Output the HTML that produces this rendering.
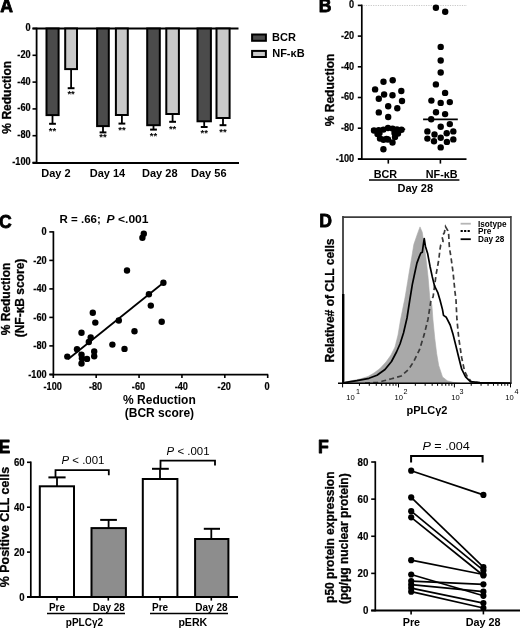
<!DOCTYPE html>
<html><head><meta charset="utf-8"><style>
html,body{margin:0;padding:0;background:#fff;}
body{width:520px;height:629px;overflow:hidden;}
svg{display:block;filter:blur(0.35px);}
text{font-family:"Liberation Sans", sans-serif;fill:#000;}
</style></head><body>
<svg width="520" height="629" viewBox="0 0 520 629">
<text x="0.2" y="12.0" font-size="17.6" font-weight="bold" stroke="#000" stroke-width="0.8" stroke-linejoin="round">A</text>
<line x1="36.6" y1="27.7" x2="36.6" y2="163.3" stroke="#000" stroke-width="1.8" />
<line x1="32.5" y1="28.5" x2="238.5" y2="28.5" stroke="#000" stroke-width="1.8" />
<line x1="32.5" y1="163.0" x2="239.0" y2="163.0" stroke="#000" stroke-width="1.8" />
<line x1="32.5" y1="28.5" x2="36.6" y2="28.5" stroke="#000" stroke-width="1.6" />
<text transform="translate(30.6,31.0) scale(0.9,1)" font-size="10.2" font-weight="bold" text-anchor="end" stroke="#000" stroke-width="0.2">0</text>
<line x1="32.5" y1="55.3" x2="36.6" y2="55.3" stroke="#000" stroke-width="1.6" />
<text transform="translate(30.6,57.8) scale(0.9,1)" font-size="10.2" font-weight="bold" text-anchor="end" stroke="#000" stroke-width="0.2">-20</text>
<line x1="32.5" y1="82.1" x2="36.6" y2="82.1" stroke="#000" stroke-width="1.6" />
<text transform="translate(30.6,84.6) scale(0.9,1)" font-size="10.2" font-weight="bold" text-anchor="end" stroke="#000" stroke-width="0.2">-40</text>
<line x1="32.5" y1="108.9" x2="36.6" y2="108.9" stroke="#000" stroke-width="1.6" />
<text transform="translate(30.6,111.4) scale(0.9,1)" font-size="10.2" font-weight="bold" text-anchor="end" stroke="#000" stroke-width="0.2">-60</text>
<line x1="32.5" y1="135.7" x2="36.6" y2="135.7" stroke="#000" stroke-width="1.6" />
<text transform="translate(30.6,138.2) scale(0.9,1)" font-size="10.2" font-weight="bold" text-anchor="end" stroke="#000" stroke-width="0.2">-80</text>
<line x1="32.5" y1="162.5" x2="36.6" y2="162.5" stroke="#000" stroke-width="1.6" />
<text transform="translate(30.6,165.0) scale(0.9,1)" font-size="10.2" font-weight="bold" text-anchor="end" stroke="#000" stroke-width="0.2">-100</text>
<rect x="46.50" y="28.50" width="12.10" height="86.60" fill="#4b4b4b" stroke="#000" stroke-width="2"/>
<line x1="52.5" y1="115.1" x2="52.5" y2="123.8" stroke="#000" stroke-width="1.8" />
<line x1="49.1" y1="123.8" x2="55.9" y2="123.8" stroke="#000" stroke-width="2" />
<text x="52.5" y="134.0" font-size="9.5" font-weight="bold" text-anchor="middle"  >**</text>
<rect x="65.20" y="28.50" width="11.80" height="40.60" fill="#c9c9c9" stroke="#000" stroke-width="2"/>
<line x1="71.1" y1="69.1" x2="71.1" y2="88.2" stroke="#000" stroke-width="1.8" />
<line x1="67.69999999999999" y1="88.2" x2="74.5" y2="88.2" stroke="#000" stroke-width="2" />
<text x="71.1" y="97.0" font-size="9.5" font-weight="bold" text-anchor="middle"  >**</text>
<rect x="97.10" y="28.50" width="11.70" height="97.60" fill="#4b4b4b" stroke="#000" stroke-width="2"/>
<line x1="103.0" y1="126.1" x2="103.0" y2="132.4" stroke="#000" stroke-width="1.8" />
<line x1="99.6" y1="132.4" x2="106.4" y2="132.4" stroke="#000" stroke-width="2" />
<text x="103.0" y="140.0" font-size="9.5" font-weight="bold" text-anchor="middle"  >**</text>
<rect x="115.90" y="28.50" width="11.90" height="86.50" fill="#c9c9c9" stroke="#000" stroke-width="2"/>
<line x1="121.9" y1="115.0" x2="121.9" y2="123.6" stroke="#000" stroke-width="1.8" />
<line x1="118.5" y1="123.6" x2="125.30000000000001" y2="123.6" stroke="#000" stroke-width="2" />
<text x="121.9" y="133.3" font-size="9.5" font-weight="bold" text-anchor="middle"  >**</text>
<rect x="147.20" y="28.50" width="12.60" height="96.70" fill="#4b4b4b" stroke="#000" stroke-width="2"/>
<line x1="153.5" y1="125.2" x2="153.5" y2="129.6" stroke="#000" stroke-width="1.8" />
<line x1="150.1" y1="129.6" x2="156.9" y2="129.6" stroke="#000" stroke-width="2" />
<text x="153.5" y="139.4" font-size="9.5" font-weight="bold" text-anchor="middle"  >**</text>
<rect x="166.30" y="28.50" width="12.60" height="85.50" fill="#c9c9c9" stroke="#000" stroke-width="2"/>
<line x1="172.6" y1="114.0" x2="172.6" y2="121.8" stroke="#000" stroke-width="1.8" />
<line x1="169.2" y1="121.8" x2="176.0" y2="121.8" stroke="#000" stroke-width="2" />
<text x="172.6" y="131.5" font-size="9.5" font-weight="bold" text-anchor="middle"  >**</text>
<rect x="197.50" y="28.50" width="13.40" height="92.80" fill="#4b4b4b" stroke="#000" stroke-width="2"/>
<line x1="204.2" y1="121.3" x2="204.2" y2="127.0" stroke="#000" stroke-width="1.8" />
<line x1="200.79999999999998" y1="127.0" x2="207.6" y2="127.0" stroke="#000" stroke-width="2" />
<text x="204.2" y="136.3" font-size="9.5" font-weight="bold" text-anchor="middle"  >**</text>
<rect x="216.50" y="28.50" width="13.10" height="89.50" fill="#c9c9c9" stroke="#000" stroke-width="2"/>
<line x1="223.0" y1="118.0" x2="223.0" y2="125.2" stroke="#000" stroke-width="1.8" />
<line x1="219.6" y1="125.2" x2="226.4" y2="125.2" stroke="#000" stroke-width="2" />
<text x="223.0" y="134.5" font-size="9.5" font-weight="bold" text-anchor="middle"  >**</text>
<rect x="252.10" y="34.50" width="13.80" height="6.30" fill="#4b4b4b" stroke="#000" stroke-width="2"/>
<rect x="252.10" y="50.90" width="13.80" height="6.10" fill="#c9c9c9" stroke="#000" stroke-width="2"/>
<text x="272.0" y="41.3" font-size="11" font-weight="bold" text-anchor="start"  >BCR</text>
<text x="272.2" y="57.3" font-size="11" font-weight="bold" text-anchor="start"  >NF-&#954;B</text>
<text x="56.0" y="177.0" font-size="11" font-weight="bold" text-anchor="middle"  >Day 2</text>
<text x="107.5" y="177.0" font-size="11" font-weight="bold" text-anchor="middle"  >Day 14</text>
<text x="159.8" y="177.0" font-size="11" font-weight="bold" text-anchor="middle"  >Day 28</text>
<text x="208.8" y="177.0" font-size="11" font-weight="bold" text-anchor="middle"  >Day 56</text>
<text transform="translate(10.6,97.3) rotate(-90)" x="0" y="0" font-size="12" font-weight="bold" text-anchor="middle" stroke="#000" stroke-width="0.3">% Reduction</text>
<text x="318.8" y="12.3" font-size="17.6" font-weight="bold" stroke="#000" stroke-width="0.8" stroke-linejoin="round">B</text>
<line x1="363.5" y1="5.5" x2="467" y2="5.5" stroke="#c8c8c8" stroke-width="1.2" stroke-dasharray="1.2,1.2"/>
<line x1="361.8" y1="4.6" x2="361.8" y2="159.9" stroke="#000" stroke-width="1.7" />
<line x1="358" y1="159.2" x2="466.5" y2="159.2" stroke="#000" stroke-width="1.7" />
<line x1="357.8" y1="5.4" x2="361.8" y2="5.4" stroke="#000" stroke-width="1.6" />
<text transform="translate(354.2,8.100000000000001) scale(0.9,1)" font-size="10.2" font-weight="bold" text-anchor="end" stroke="#000" stroke-width="0.2">0</text>
<line x1="357.8" y1="36.1" x2="361.8" y2="36.1" stroke="#000" stroke-width="1.6" />
<text transform="translate(354.2,38.800000000000004) scale(0.9,1)" font-size="10.2" font-weight="bold" text-anchor="end" stroke="#000" stroke-width="0.2">-20</text>
<line x1="357.8" y1="66.8" x2="361.8" y2="66.8" stroke="#000" stroke-width="1.6" />
<text transform="translate(354.2,69.5) scale(0.9,1)" font-size="10.2" font-weight="bold" text-anchor="end" stroke="#000" stroke-width="0.2">-40</text>
<line x1="357.8" y1="97.5" x2="361.8" y2="97.5" stroke="#000" stroke-width="1.6" />
<text transform="translate(354.2,100.2) scale(0.9,1)" font-size="10.2" font-weight="bold" text-anchor="end" stroke="#000" stroke-width="0.2">-60</text>
<line x1="357.8" y1="128.2" x2="361.8" y2="128.2" stroke="#000" stroke-width="1.6" />
<text transform="translate(354.2,130.89999999999998) scale(0.9,1)" font-size="10.2" font-weight="bold" text-anchor="end" stroke="#000" stroke-width="0.2">-80</text>
<line x1="357.8" y1="158.9" x2="361.8" y2="158.9" stroke="#000" stroke-width="1.6" />
<text transform="translate(354.2,161.6) scale(0.9,1)" font-size="10.2" font-weight="bold" text-anchor="end" stroke="#000" stroke-width="0.2">-100</text>
<line x1="388.3" y1="159.2" x2="388.3" y2="163.6" stroke="#000" stroke-width="1.6" />
<line x1="440.4" y1="159.2" x2="440.4" y2="163.6" stroke="#000" stroke-width="1.6" />
<text x="385.4" y="177.9" font-size="10.8" font-weight="bold" text-anchor="middle"  >BCR</text>
<text x="441.7" y="177.9" font-size="10.8" font-weight="bold" text-anchor="middle"  >NF-&#954;B</text>
<line x1="369" y1="179.9" x2="459.4" y2="179.9" stroke="#000" stroke-width="1.5" />
<text x="415.3" y="191.6" font-size="11" font-weight="bold" text-anchor="middle"  >Day 28</text>
<text transform="translate(334.1,89.9) rotate(-90)" x="0" y="0" font-size="12" font-weight="bold" text-anchor="middle" stroke="#000" stroke-width="0.3">% Reduction</text>
<circle cx="383.5" cy="81.8" r="3.2" fill="#000"/>
<circle cx="392.7" cy="80.3" r="3.2" fill="#000"/>
<circle cx="375.1" cy="89.4" r="3.2" fill="#000"/>
<circle cx="401.3" cy="91" r="3.2" fill="#000"/>
<circle cx="384.1" cy="94.5" r="3.2" fill="#000"/>
<circle cx="392.5" cy="95.2" r="3.2" fill="#000"/>
<circle cx="378.8" cy="98.8" r="3.2" fill="#000"/>
<circle cx="402" cy="101" r="3.2" fill="#000"/>
<circle cx="388.2" cy="106.3" r="3.2" fill="#000"/>
<circle cx="397.3" cy="108.2" r="3.2" fill="#000"/>
<circle cx="378.8" cy="112.4" r="3.2" fill="#000"/>
<circle cx="388.2" cy="117" r="3.2" fill="#000"/>
<circle cx="374.0" cy="130.5" r="3.2" fill="#000"/>
<circle cx="383.4" cy="129.6" r="3.2" fill="#000"/>
<circle cx="392.6" cy="128.6" r="3.2" fill="#000"/>
<circle cx="401.5" cy="129.8" r="3.2" fill="#000"/>
<circle cx="377.5" cy="134.0" r="3.2" fill="#000"/>
<circle cx="398.0" cy="133.5" r="3.2" fill="#000"/>
<circle cx="380.0" cy="138.5" r="3.2" fill="#000"/>
<circle cx="395.0" cy="137.0" r="3.2" fill="#000"/>
<circle cx="383.5" cy="139.8" r="3.2" fill="#000"/>
<circle cx="388.0" cy="139.5" r="3.2" fill="#000"/>
<circle cx="392.5" cy="142.5" r="3.2" fill="#000"/>
<circle cx="383.4" cy="149.2" r="3.2" fill="#000"/>
<circle cx="379.5" cy="133.0" r="3.2" fill="#000"/>
<circle cx="394.5" cy="133.0" r="3.2" fill="#000"/>
<circle cx="386.5" cy="139.0" r="3.2" fill="#000"/>
<circle cx="378.7" cy="130.3" r="3.2" fill="#000"/>
<circle cx="397.0" cy="129.5" r="3.2" fill="#000"/>
<circle cx="388.0" cy="128.0" r="3.2" fill="#000"/>
<circle cx="435.9" cy="7.7" r="3.2" fill="#000"/>
<circle cx="445.2" cy="11.7" r="3.2" fill="#000"/>
<circle cx="440.7" cy="46.9" r="3.2" fill="#000"/>
<circle cx="440.7" cy="60.5" r="3.2" fill="#000"/>
<circle cx="440.7" cy="72.5" r="3.2" fill="#000"/>
<circle cx="435.9" cy="84.4" r="3.2" fill="#000"/>
<circle cx="445.1" cy="92.9" r="3.2" fill="#000"/>
<circle cx="431.4" cy="100.6" r="3.2" fill="#000"/>
<circle cx="440.7" cy="102.9" r="3.2" fill="#000"/>
<circle cx="449.8" cy="102.1" r="3.2" fill="#000"/>
<circle cx="436" cy="112.2" r="3.2" fill="#000"/>
<circle cx="445.1" cy="114.1" r="3.2" fill="#000"/>
<circle cx="431.2" cy="119.3" r="3.2" fill="#000"/>
<circle cx="449.8" cy="124.1" r="3.2" fill="#000"/>
<circle cx="440.7" cy="126.7" r="3.2" fill="#000"/>
<circle cx="427.4" cy="131.4" r="3.2" fill="#000"/>
<circle cx="434.5" cy="134.5" r="3.2" fill="#000"/>
<circle cx="446.7" cy="133.2" r="3.2" fill="#000"/>
<circle cx="453.3" cy="131.4" r="3.2" fill="#000"/>
<circle cx="427.4" cy="138.6" r="3.2" fill="#000"/>
<circle cx="434" cy="141.2" r="3.2" fill="#000"/>
<circle cx="440.7" cy="137.8" r="3.2" fill="#000"/>
<circle cx="446.9" cy="141.9" r="3.2" fill="#000"/>
<circle cx="453.3" cy="139.4" r="3.2" fill="#000"/>
<circle cx="440.7" cy="147.4" r="3.2" fill="#000"/>
<line x1="371" y1="129.3" x2="405.2" y2="129.3" stroke="#000" stroke-width="1.6" />
<line x1="423.1" y1="119.3" x2="457.8" y2="119.3" stroke="#000" stroke-width="1.7" />
<text x="-1.1" y="227.5" font-size="17.6" font-weight="bold" stroke="#000" stroke-width="0.8" stroke-linejoin="round">C</text>
<text x="59.6" y="223.3" font-size="11.5" font-weight="bold">R = .66;</text>
<text transform="translate(106.6,223.3) scale(1.05,1)" font-size="11.5" font-weight="bold"><tspan font-style="italic">P</tspan> &lt;.001</text>
<line x1="53.4" y1="231.2" x2="53.4" y2="375.3" stroke="#000" stroke-width="1.7" />
<line x1="49.5" y1="374.6" x2="268.2" y2="374.6" stroke="#000" stroke-width="1.7" />
<line x1="49.3" y1="231.9" x2="53.4" y2="231.9" stroke="#000" stroke-width="1.6" />
<text transform="translate(46.6,235.3) scale(0.9,1)" font-size="10.2" font-weight="bold" text-anchor="end" stroke="#000" stroke-width="0.2">0</text>
<line x1="49.3" y1="260.4" x2="53.4" y2="260.4" stroke="#000" stroke-width="1.6" />
<text transform="translate(46.6,263.79999999999995) scale(0.9,1)" font-size="10.2" font-weight="bold" text-anchor="end" stroke="#000" stroke-width="0.2">-20</text>
<line x1="49.3" y1="288.9" x2="53.4" y2="288.9" stroke="#000" stroke-width="1.6" />
<text transform="translate(46.6,292.29999999999995) scale(0.9,1)" font-size="10.2" font-weight="bold" text-anchor="end" stroke="#000" stroke-width="0.2">-40</text>
<line x1="49.3" y1="317.4" x2="53.4" y2="317.4" stroke="#000" stroke-width="1.6" />
<text transform="translate(46.6,320.79999999999995) scale(0.9,1)" font-size="10.2" font-weight="bold" text-anchor="end" stroke="#000" stroke-width="0.2">-60</text>
<line x1="49.3" y1="345.9" x2="53.4" y2="345.9" stroke="#000" stroke-width="1.6" />
<text transform="translate(46.6,349.29999999999995) scale(0.9,1)" font-size="10.2" font-weight="bold" text-anchor="end" stroke="#000" stroke-width="0.2">-80</text>
<line x1="49.3" y1="374.4" x2="53.4" y2="374.4" stroke="#000" stroke-width="1.6" />
<text transform="translate(46.6,377.79999999999995) scale(0.9,1)" font-size="10.2" font-weight="bold" text-anchor="end" stroke="#000" stroke-width="0.2">-100</text>
<line x1="53.3" y1="374.6" x2="53.3" y2="378.0" stroke="#000" stroke-width="1.6" />
<text transform="translate(52.699999999999996,389.8) scale(0.9,1)" font-size="10.2" font-weight="bold" text-anchor="middle" stroke="#000" stroke-width="0.2">-100</text>
<line x1="96.18" y1="374.6" x2="96.18" y2="378.0" stroke="#000" stroke-width="1.6" />
<text transform="translate(95.58000000000001,389.8) scale(0.9,1)" font-size="10.2" font-weight="bold" text-anchor="middle" stroke="#000" stroke-width="0.2">-80</text>
<line x1="139.06" y1="374.6" x2="139.06" y2="378.0" stroke="#000" stroke-width="1.6" />
<text transform="translate(138.46,389.8) scale(0.9,1)" font-size="10.2" font-weight="bold" text-anchor="middle" stroke="#000" stroke-width="0.2">-60</text>
<line x1="181.94" y1="374.6" x2="181.94" y2="378.0" stroke="#000" stroke-width="1.6" />
<text transform="translate(181.34,389.8) scale(0.9,1)" font-size="10.2" font-weight="bold" text-anchor="middle" stroke="#000" stroke-width="0.2">-40</text>
<line x1="224.82" y1="374.6" x2="224.82" y2="378.0" stroke="#000" stroke-width="1.6" />
<text transform="translate(224.22,389.8) scale(0.9,1)" font-size="10.2" font-weight="bold" text-anchor="middle" stroke="#000" stroke-width="0.2">-20</text>
<line x1="267.7" y1="374.6" x2="267.7" y2="378.0" stroke="#000" stroke-width="1.6" />
<text transform="translate(267.09999999999997,389.8) scale(0.9,1)" font-size="10.2" font-weight="bold" text-anchor="middle" stroke="#000" stroke-width="0.2">0</text>
<text x="159.4" y="403.8" font-size="12" font-weight="bold" text-anchor="middle"  >% Reduction</text>
<text x="159.4" y="417.2" font-size="12" font-weight="bold" text-anchor="middle"  >(BCR score)</text>
<text transform="translate(10.2,299.0) rotate(-90)" x="0" y="0" font-size="12" font-weight="bold" text-anchor="middle" stroke="#000" stroke-width="0.3">% Reduction</text>
<text transform="translate(23.6,298.0) rotate(-90)" x="0" y="0" font-size="12" font-weight="bold" text-anchor="middle" stroke="#000" stroke-width="0.3">(NF-&#954;B score)</text>
<circle cx="92.8" cy="312.8" r="3.2" fill="#000"/>
<circle cx="95.3" cy="322.6" r="3.2" fill="#000"/>
<circle cx="118.8" cy="320.5" r="3.2" fill="#000"/>
<circle cx="81.5" cy="332.8" r="3.2" fill="#000"/>
<circle cx="90.7" cy="337.4" r="3.2" fill="#000"/>
<circle cx="88.8" cy="342" r="3.2" fill="#000"/>
<circle cx="112.4" cy="344.6" r="3.2" fill="#000"/>
<circle cx="124.5" cy="348.9" r="3.2" fill="#000"/>
<circle cx="77" cy="349.2" r="3.2" fill="#000"/>
<circle cx="94.2" cy="351.5" r="3.2" fill="#000"/>
<circle cx="94.2" cy="356.2" r="3.2" fill="#000"/>
<circle cx="81.5" cy="354.6" r="3.2" fill="#000"/>
<circle cx="81.9" cy="358.2" r="3.2" fill="#000"/>
<circle cx="87" cy="358.9" r="3.2" fill="#000"/>
<circle cx="67.3" cy="356.6" r="3.2" fill="#000"/>
<circle cx="81.5" cy="363.5" r="3.2" fill="#000"/>
<circle cx="143.8" cy="233.8" r="3.2" fill="#000"/>
<circle cx="142.4" cy="237.8" r="3.2" fill="#000"/>
<circle cx="127" cy="270.5" r="3.2" fill="#000"/>
<circle cx="163.4" cy="282.8" r="3.2" fill="#000"/>
<circle cx="148.9" cy="294.2" r="3.2" fill="#000"/>
<circle cx="150.8" cy="305.6" r="3.2" fill="#000"/>
<circle cx="161.7" cy="321.7" r="3.2" fill="#000"/>
<circle cx="134.5" cy="331.3" r="3.2" fill="#000"/>
<line x1="68" y1="359.3" x2="163.4" y2="282.8" stroke="#000" stroke-width="1.8" />
<text x="319.2" y="226.5" font-size="17.6" font-weight="bold" stroke="#000" stroke-width="0.8" stroke-linejoin="round">D</text>
<polygon points="343.5,383.2 344.0,382.3 351.0,380.8 360.0,379.0 368.0,376.5 374.0,373.0 380.0,368.5 386.0,362.0 391.0,355.0 395.0,347.0 398.0,335.0 400.5,320.0 403.5,305.0 404.6,300.0 406.2,290.8 407.7,281.5 409.2,272.3 410.8,263.1 412.3,253.8 413.8,244.6 416.9,235.4 420.0,226.9 422.3,232.3 423.8,243.1 425.4,253.8 426.9,266.2 428.2,278.5 429.2,290.8 430.0,300.0 431.9,305.0 432.9,319.2 434.8,338.5 436.7,353.8 438.7,365.4 442.5,376.9 447.3,380.8 453.0,382.3 460.0,383.2" fill="#a9a9a9" stroke="#a9a9a9" stroke-width="0.6"/>
<polyline points="365.0,383.0 378.0,382.3 383.8,380.8 391.5,378.8 401.2,376.0 408.8,369.2 413.7,361.5 419.4,350.0 424.2,334.6 428.0,319.2 431.0,300.0 433.1,296.9 436.2,273.8 438.3,262.5 439.1,257.0 439.9,249.8 440.7,245.0 443.1,241.1 441.9,236.3 444.3,232.8 445.5,226.6 447.9,230.7 448.7,234.7 449.1,242.7 449.5,248.2 450.7,255.4 451.5,261.0 453.1,272.7 455.0,291.9 456.0,300.0 456.9,319.2 458.8,338.5 461.7,357.7 464.6,371.2 467.5,376.9 471.3,381.7 480.0,383.0" fill="none" stroke="#3a3a3a" stroke-width="1.7" stroke-dasharray="5,3.2"/>
<polyline points="343.5,383.0 346.0,382.3 357.0,380.6 369.0,378.3 377.0,375.3 385.0,369.5 391.5,361.5 396.5,352.0 400.0,344.0 403.5,333.0 407.0,318.0 409.8,300.0 412.3,284.6 414.6,273.8 416.9,263.1 419.2,256.9 420.8,253.0 422.3,252.3 423.0,247.0 424.2,238.5 425.4,246.2 427.7,253.8 430.0,266.2 432.3,276.9 434.6,286.2 437.7,292.3 440.0,300.0 442.5,309.6 443.5,315.4 446.3,317.3 450.2,325.0 453.1,334.6 456.0,346.2 458.8,357.7 461.7,369.2 465.6,376.9 470.4,381.7 480.0,382.7 510.0,383.0" fill="none" stroke="#000" stroke-width="1.7" stroke-linejoin="round"/>
<line x1="342.6" y1="217.1" x2="511.2" y2="217.1" stroke="#3c3c3c" stroke-width="1.8" />
<line x1="510.9" y1="216" x2="510.9" y2="383.5" stroke="#3c3c3c" stroke-width="1.6" />
<line x1="343.0" y1="216" x2="343.0" y2="383.5" stroke="#3c3c3c" stroke-width="1.8" />
<line x1="343.2" y1="294" x2="343.2" y2="383.5" stroke="#000" stroke-width="2.4" />
<line x1="338" y1="383.2" x2="511.5" y2="383.2" stroke="#000" stroke-width="1.6" />
<line x1="342.6" y1="383.2" x2="342.6" y2="387.4" stroke="#000" stroke-width="1.0" />
<line x1="359.43" y1="383.2" x2="359.43" y2="385.8" stroke="#000" stroke-width="1.0" />
<line x1="369.27" y1="383.2" x2="369.27" y2="385.8" stroke="#000" stroke-width="1.0" />
<line x1="376.26" y1="383.2" x2="376.26" y2="385.8" stroke="#000" stroke-width="1.0" />
<line x1="381.67" y1="383.2" x2="381.67" y2="385.8" stroke="#000" stroke-width="1.0" />
<line x1="386.1" y1="383.2" x2="386.1" y2="385.8" stroke="#000" stroke-width="1.0" />
<line x1="389.84" y1="383.2" x2="389.84" y2="385.8" stroke="#000" stroke-width="1.0" />
<line x1="393.08" y1="383.2" x2="393.08" y2="385.8" stroke="#000" stroke-width="1.0" />
<line x1="395.94" y1="383.2" x2="395.94" y2="385.8" stroke="#000" stroke-width="1.0" />
<line x1="398.5" y1="383.2" x2="398.5" y2="387.4" stroke="#000" stroke-width="1.0" />
<line x1="415.33" y1="383.2" x2="415.33" y2="385.8" stroke="#000" stroke-width="1.0" />
<line x1="425.17" y1="383.2" x2="425.17" y2="385.8" stroke="#000" stroke-width="1.0" />
<line x1="432.16" y1="383.2" x2="432.16" y2="385.8" stroke="#000" stroke-width="1.0" />
<line x1="437.57" y1="383.2" x2="437.57" y2="385.8" stroke="#000" stroke-width="1.0" />
<line x1="442.0" y1="383.2" x2="442.0" y2="385.8" stroke="#000" stroke-width="1.0" />
<line x1="445.74" y1="383.2" x2="445.74" y2="385.8" stroke="#000" stroke-width="1.0" />
<line x1="448.98" y1="383.2" x2="448.98" y2="385.8" stroke="#000" stroke-width="1.0" />
<line x1="451.84" y1="383.2" x2="451.84" y2="385.8" stroke="#000" stroke-width="1.0" />
<line x1="454.4" y1="383.2" x2="454.4" y2="387.4" stroke="#000" stroke-width="1.0" />
<line x1="471.23" y1="383.2" x2="471.23" y2="385.8" stroke="#000" stroke-width="1.0" />
<line x1="481.07" y1="383.2" x2="481.07" y2="385.8" stroke="#000" stroke-width="1.0" />
<line x1="488.06" y1="383.2" x2="488.06" y2="385.8" stroke="#000" stroke-width="1.0" />
<line x1="493.47" y1="383.2" x2="493.47" y2="385.8" stroke="#000" stroke-width="1.0" />
<line x1="497.9" y1="383.2" x2="497.9" y2="385.8" stroke="#000" stroke-width="1.0" />
<line x1="501.64" y1="383.2" x2="501.64" y2="385.8" stroke="#000" stroke-width="1.0" />
<line x1="504.88" y1="383.2" x2="504.88" y2="385.8" stroke="#000" stroke-width="1.0" />
<line x1="507.74" y1="383.2" x2="507.74" y2="385.8" stroke="#000" stroke-width="1.0" />
<line x1="510.5" y1="383.2" x2="510.5" y2="387.4" stroke="#000" stroke-width="1.0" />
<text x="346.3" y="400.0" font-size="7.6" font-weight="normal" text-anchor="start"  >10</text>
<text x="356.0" y="394.2" font-size="7.2" font-weight="normal" text-anchor="start"  >1</text>
<text x="394.6" y="400.0" font-size="7.6" font-weight="normal" text-anchor="start"  >10</text>
<text x="403.4" y="394.2" font-size="7.2" font-weight="normal" text-anchor="start"  >2</text>
<text x="451.3" y="400.0" font-size="7.6" font-weight="normal" text-anchor="start"  >10</text>
<text x="459.6" y="394.2" font-size="7.2" font-weight="normal" text-anchor="start"  >3</text>
<text x="505.3" y="400.0" font-size="7.6" font-weight="normal" text-anchor="start"  >10</text>
<text x="514.4" y="394.2" font-size="7.2" font-weight="normal" text-anchor="start"  >4</text>
<line x1="460.6" y1="223.7" x2="470.8" y2="223.7" stroke="#b5b5b5" stroke-width="1.8" />
<line x1="460.6" y1="231.0" x2="470.8" y2="231.0" stroke="#000" stroke-width="1.8" stroke-dasharray="2.2,1.3"/>
<line x1="460.6" y1="239.2" x2="470.8" y2="239.2" stroke="#000" stroke-width="1.8" />
<text x="478.0" y="226.6" font-size="8.2" font-weight="bold" text-anchor="start"  >Isotype</text>
<text x="478.0" y="234.2" font-size="8.2" font-weight="bold" text-anchor="start"  >Pre</text>
<text x="478.0" y="241.9" font-size="8.2" font-weight="bold" text-anchor="start"  >Day 28</text>
<text transform="translate(334.2,300.5) rotate(-90)" x="0" y="0" font-size="12" font-weight="bold" text-anchor="middle" stroke="#000" stroke-width="0.3">Relative# of CLL cells</text>
<text x="406.5" y="414.3" font-size="11" font-weight="bold" text-anchor="start"  >pPLC&#947;2</text>
<text x="-1.6" y="453.4" font-size="17.6" font-weight="bold" stroke="#000" stroke-width="0.8" stroke-linejoin="round">E</text>
<line x1="30.8" y1="461.5" x2="30.8" y2="597.8" stroke="#000" stroke-width="1.7" />
<line x1="27" y1="597" x2="238" y2="597" stroke="#000" stroke-width="1.8" />
<line x1="27.0" y1="597.0" x2="30.8" y2="597.0" stroke="#000" stroke-width="1.6" />
<text transform="translate(24.6,600.6) scale(0.87,1)" font-size="11.0" font-weight="bold" text-anchor="end" stroke="#000" stroke-width="0.2">0</text>
<line x1="27.0" y1="552.1" x2="30.8" y2="552.1" stroke="#000" stroke-width="1.6" />
<text transform="translate(24.6,555.7) scale(0.87,1)" font-size="11.0" font-weight="bold" text-anchor="end" stroke="#000" stroke-width="0.2">20</text>
<line x1="27.0" y1="507.2" x2="30.8" y2="507.2" stroke="#000" stroke-width="1.6" />
<text transform="translate(24.6,510.8) scale(0.87,1)" font-size="11.0" font-weight="bold" text-anchor="end" stroke="#000" stroke-width="0.2">40</text>
<line x1="27.0" y1="462.29999999999995" x2="30.8" y2="462.29999999999995" stroke="#000" stroke-width="1.6" />
<text transform="translate(24.6,465.9) scale(0.87,1)" font-size="11.0" font-weight="bold" text-anchor="end" stroke="#000" stroke-width="0.2">60</text>
<rect x="39.80" y="486.30" width="34.20" height="110.70" fill="#fff" stroke="#000" stroke-width="2"/>
<line x1="57.0" y1="486.3" x2="57.0" y2="477.4" stroke="#000" stroke-width="1.8" />
<line x1="48.4" y1="477.4" x2="65.6" y2="477.4" stroke="#000" stroke-width="2" />
<rect x="91.50" y="528.10" width="34.40" height="68.90" fill="#8d8d8d" stroke="#000" stroke-width="2"/>
<line x1="108.6" y1="528.1" x2="108.6" y2="519.9" stroke="#000" stroke-width="1.8" />
<line x1="100.2" y1="519.9" x2="116.9" y2="519.9" stroke="#000" stroke-width="2" />
<rect x="142.80" y="479.00" width="34.60" height="118.00" fill="#fff" stroke="#000" stroke-width="2"/>
<line x1="160.0" y1="479.0" x2="160.0" y2="468.8" stroke="#000" stroke-width="1.8" />
<line x1="152.0" y1="468.8" x2="168.8" y2="468.8" stroke="#000" stroke-width="2" />
<rect x="195.10" y="539.00" width="33.30" height="58.00" fill="#8d8d8d" stroke="#000" stroke-width="2"/>
<line x1="211.3" y1="539.0" x2="211.3" y2="528.8" stroke="#000" stroke-width="1.8" />
<line x1="203.8" y1="528.8" x2="220.0" y2="528.8" stroke="#000" stroke-width="2" />
<line x1="57" y1="597" x2="57" y2="600.6" stroke="#000" stroke-width="1.6" />
<line x1="108.3" y1="597" x2="108.3" y2="600.6" stroke="#000" stroke-width="1.6" />
<line x1="160" y1="597" x2="160" y2="600.6" stroke="#000" stroke-width="1.6" />
<line x1="211.3" y1="597" x2="211.3" y2="600.6" stroke="#000" stroke-width="1.6" />
<polyline points="55.5,477.4 55.5,470.2 108.8,470.2 108.8,475.2" fill="none" stroke="#000" stroke-width="1.8"/>
<polyline points="160.5,468.8 160.5,460.7 215,460.7 215,465.6" fill="none" stroke="#000" stroke-width="1.8"/>
<text transform="translate(61.5,464.3) scale(1.05,1)" font-size="10.9" font-weight="normal"><tspan font-style="italic">P</tspan> &lt; .001</text>
<text transform="translate(166.6,455.0) scale(1.05,1)" font-size="10.9" font-weight="normal"><tspan font-style="italic">P</tspan> &lt; .001</text>
<text x="57" y="611.4" font-size="10" font-weight="bold" text-anchor="middle"  >Pre</text>
<text x="108.8" y="611.4" font-size="10" font-weight="bold" text-anchor="middle"  >Day 28</text>
<text x="160.1" y="611.4" font-size="10" font-weight="bold" text-anchor="middle"  >Pre</text>
<text x="211.4" y="611.4" font-size="10" font-weight="bold" text-anchor="middle"  >Day 28</text>
<line x1="47" y1="613.4" x2="125" y2="613.4" stroke="#000" stroke-width="1.5" />
<line x1="150" y1="613.4" x2="228" y2="613.4" stroke="#000" stroke-width="1.5" />
<text x="84.4" y="626.2" font-size="10.0" font-weight="bold" text-anchor="middle"  >pPLC&#947;2</text>
<text x="192.8" y="626.2" font-size="10.6" font-weight="bold" text-anchor="middle"  >pERK</text>
<text transform="translate(9.3,527.0) rotate(-90)" x="0" y="0" font-size="12.4" font-weight="bold" text-anchor="middle" stroke="#000" stroke-width="0.3">% Positive CLL cells</text>
<text x="317.9" y="453.2" font-size="17.6" font-weight="bold" stroke="#000" stroke-width="0.8" stroke-linejoin="round">F</text>
<line x1="375.3" y1="461.3" x2="375.3" y2="611.3" stroke="#000" stroke-width="1.7" />
<line x1="371.2" y1="610.5" x2="520" y2="610.5" stroke="#000" stroke-width="1.8" />
<line x1="371.2" y1="610.5" x2="375.3" y2="610.5" stroke="#000" stroke-width="1.6" />
<text transform="translate(368.4,614.3) scale(0.87,1)" font-size="11.2" font-weight="bold" text-anchor="end" stroke="#000" stroke-width="0.2">0</text>
<line x1="371.2" y1="573.38" x2="375.3" y2="573.38" stroke="#000" stroke-width="1.6" />
<text transform="translate(368.4,577.18) scale(0.87,1)" font-size="11.2" font-weight="bold" text-anchor="end" stroke="#000" stroke-width="0.2">20</text>
<line x1="371.2" y1="536.26" x2="375.3" y2="536.26" stroke="#000" stroke-width="1.6" />
<text transform="translate(368.4,540.06) scale(0.87,1)" font-size="11.2" font-weight="bold" text-anchor="end" stroke="#000" stroke-width="0.2">40</text>
<line x1="371.2" y1="499.14" x2="375.3" y2="499.14" stroke="#000" stroke-width="1.6" />
<text transform="translate(368.4,502.94) scale(0.87,1)" font-size="11.2" font-weight="bold" text-anchor="end" stroke="#000" stroke-width="0.2">60</text>
<line x1="371.2" y1="462.02" x2="375.3" y2="462.02" stroke="#000" stroke-width="1.6" />
<text transform="translate(368.4,465.82) scale(0.87,1)" font-size="11.2" font-weight="bold" text-anchor="end" stroke="#000" stroke-width="0.2">80</text>
<line x1="411.1" y1="610.5" x2="411.1" y2="614.4" stroke="#000" stroke-width="1.6" />
<line x1="483.4" y1="610.5" x2="483.4" y2="614.4" stroke="#000" stroke-width="1.6" />
<text x="411.4" y="626.2" font-size="10.8" font-weight="bold" text-anchor="middle"  >Pre</text>
<text x="483.2" y="626.2" font-size="10.8" font-weight="bold" text-anchor="middle"  >Day 28</text>
<polyline points="411.1,462.6 411.1,456.0 482.6,456.0 482.6,462.6" fill="none" stroke="#000" stroke-width="2"/>
<text transform="translate(422.4,450.3) scale(1.17,1)" font-size="10.8" font-weight="normal"><tspan font-style="italic">P</tspan> = .004</text>
<text transform="translate(334.0,537.2) rotate(-90)" x="0" y="0" font-size="12" font-weight="bold" text-anchor="middle" stroke="#000" stroke-width="0.3">p50 protein expression</text>
<text transform="translate(348.0,538.7) rotate(-90)" x="0" y="0" font-size="12" font-weight="bold" text-anchor="middle" stroke="#000" stroke-width="0.3">(pg/&#956;g nuclear protein)</text>
<line x1="411.2" y1="470.7" x2="483.4" y2="494.9" stroke="#000" stroke-width="1.7" />
<line x1="411.2" y1="497.4" x2="483.4" y2="567.2" stroke="#000" stroke-width="1.7" />
<line x1="411.2" y1="511.2" x2="483.4" y2="570.4" stroke="#000" stroke-width="1.7" />
<line x1="411.2" y1="517.3" x2="483.4" y2="575.5" stroke="#000" stroke-width="1.7" />
<line x1="411.2" y1="560.2" x2="483.4" y2="574.5" stroke="#000" stroke-width="1.7" />
<line x1="411.2" y1="574.5" x2="483.4" y2="595.8" stroke="#000" stroke-width="1.7" />
<line x1="411.2" y1="581.1" x2="483.4" y2="584.3" stroke="#000" stroke-width="1.7" />
<line x1="411.2" y1="584.7" x2="483.4" y2="591.7" stroke="#000" stroke-width="1.7" />
<line x1="411.2" y1="588.1" x2="483.4" y2="603.1" stroke="#000" stroke-width="1.7" />
<line x1="411.2" y1="591.7" x2="483.4" y2="608.0" stroke="#000" stroke-width="1.7" />
<circle cx="411.2" cy="470.7" r="3.1" fill="#000"/>
<circle cx="483.4" cy="494.9" r="3.1" fill="#000"/>
<circle cx="411.2" cy="497.4" r="3.1" fill="#000"/>
<circle cx="483.4" cy="567.2" r="3.1" fill="#000"/>
<circle cx="411.2" cy="511.2" r="3.1" fill="#000"/>
<circle cx="483.4" cy="570.4" r="3.1" fill="#000"/>
<circle cx="411.2" cy="517.3" r="3.1" fill="#000"/>
<circle cx="483.4" cy="575.5" r="3.1" fill="#000"/>
<circle cx="411.2" cy="560.2" r="3.1" fill="#000"/>
<circle cx="483.4" cy="574.5" r="3.1" fill="#000"/>
<circle cx="411.2" cy="574.5" r="3.1" fill="#000"/>
<circle cx="483.4" cy="595.8" r="3.1" fill="#000"/>
<circle cx="411.2" cy="581.1" r="3.1" fill="#000"/>
<circle cx="483.4" cy="584.3" r="3.1" fill="#000"/>
<circle cx="411.2" cy="584.7" r="3.1" fill="#000"/>
<circle cx="483.4" cy="591.7" r="3.1" fill="#000"/>
<circle cx="411.2" cy="588.1" r="3.1" fill="#000"/>
<circle cx="483.4" cy="603.1" r="3.1" fill="#000"/>
<circle cx="411.2" cy="591.7" r="3.1" fill="#000"/>
<circle cx="483.4" cy="608.0" r="3.1" fill="#000"/>
</svg>
</body></html>
